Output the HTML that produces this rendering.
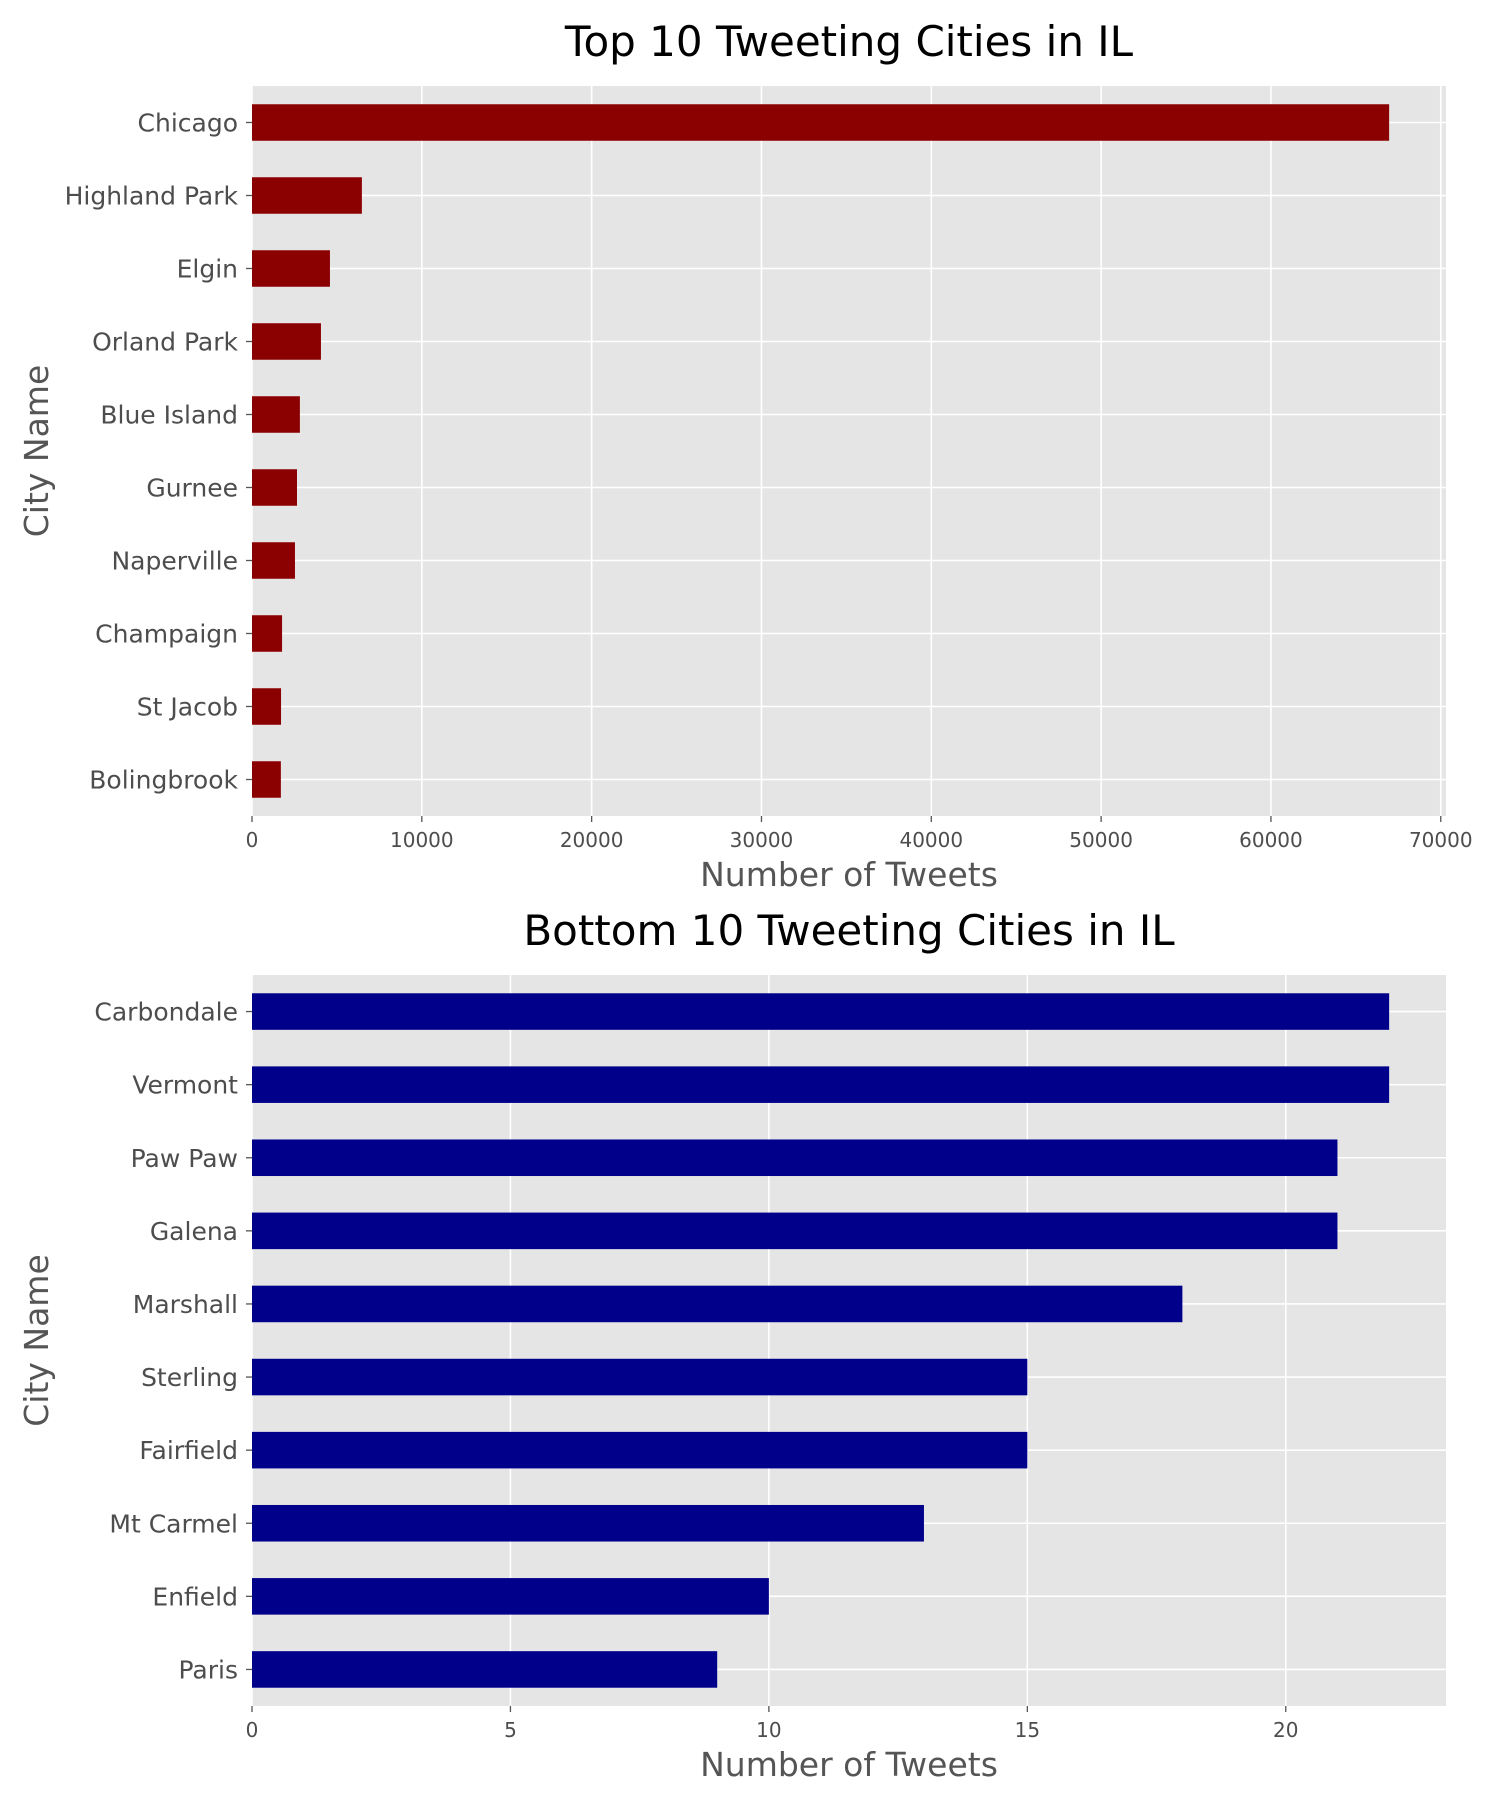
<!DOCTYPE html>
<html><head><meta charset="utf-8"><style>
body{margin:0;background:#fff;}
svg{display:block;font-family:"DejaVu Sans","Liberation Sans",sans-serif;}
</style></head><body>
<svg id="fig" width="1500" height="1800" viewBox="0 0 1500 1800"></svg>
<script>
const topCities = ["Chicago","Highland Park","Elgin","Orland Park","Blue Island","Gurnee","Naperville","Champaign","St Jacob","Bolingbrook"];
const topValues = [66960,6470,4590,4060,2820,2650,2530,1770,1710,1700];
const topTicks = [0,10000,20000,30000,40000,50000,60000,70000];
const botCities = ["Carbondale","Vermont","Paw Paw","Galena","Marshall","Sterling","Fairfield","Mt Carmel","Enfield","Paris"];
const botValues = [22,22,21,21,18,15,15,13,10,9];
const botTicks = [0,5,10,15,20];

const NS="http://www.w3.org/2000/svg";
const svg=document.getElementById('fig');
function mk(tag,attrs,parent){const e=document.createElementNS(NS,tag);for(const k in attrs)e.setAttribute(k,attrs[k]);(parent||svg).appendChild(e);return e;}

function chart(cfg){
  const L=252,R=1446,T=cfg.top,B=cfg.bottom;
  const g=mk('g',{});
  
  
  const max=Math.max(...cfg.values)*1.05;
  const x=v=>L+(v/max)*(R-L);
  const n=cfg.cats.length, slot=(B-T)/n;
  const y=i=>T+slot*(i+0.5);
  const bg=mk('rect',{x:L,y:T,width:R-L,height:B-T,fill:'#e5e5e5'},g);
  
  
  cfg.ticks.forEach(t=>{
    const gl=mk('line',{x1:x(t),x2:x(t),y1:T,y2:B,stroke:'#fff','stroke-width':1.6},g);
    
    
  });
  cfg.cats.forEach((c,i)=>{
    const gl=mk('line',{x1:L,x2:R,y1:y(i),y2:y(i),stroke:'#fff','stroke-width':1.6},g);
    
    
  });
  cfg.values.forEach((v,i)=>{
    const r=mk('rect',{x:L,y:y(i)-slot*0.25,width:x(v)-L,height:slot*0.5,fill:cfg.color},g);
    
    
    const tk=mk('line',{x1:L-6,x2:L,y1:y(i),y2:y(i),stroke:'#555','stroke-width':1.3},g);
    
    
    const tl=mk('text',{x:L-14,y:y(i)+9,'text-anchor':'end','font-size':25,fill:'#4d4d4d'},g);
    tl.textContent=cfg.cats[i];
    
    
  });
  cfg.ticks.forEach(t=>{
    const tk=mk('line',{x1:x(t),x2:x(t),y1:B,y2:B+6,stroke:'#555','stroke-width':1.3},g);
    
    
    const tl=mk('text',{x:x(t),y:B+31,'text-anchor':'middle','font-size':20,fill:'#4d4d4d'},g);
    tl.textContent=t;
    
    
  });
  const ti=mk('text',{x:(L+R)/2,y:T-30,'text-anchor':'middle','font-size':42,fill:'#000'},g);
  ti.textContent=cfg.title;
  
  
  const xl=mk('text',{x:(L+R)/2,y:B+70,'text-anchor':'middle','font-size':33,fill:'#555'},g);
  xl.textContent='Number of Tweets';
  
  
  const cy=(T+B)/2;
  const yl=mk('text',{x:48,y:cy,'text-anchor':'middle','font-size':33,fill:'#555',transform:`rotate(-90 48 ${cy})`},g);
  yl.textContent='City Name';
  
  
}
chart({name:'top-cities-chart',top:86,bottom:816,cats:topCities,values:topValues,ticks:topTicks,color:'#8b0000',title:'Top 10 Tweeting Cities in IL'});
chart({name:'bottom-cities-chart',top:975,bottom:1706,cats:botCities,values:botValues,ticks:botTicks,color:'#00008b',title:'Bottom 10 Tweeting Cities in IL'});
</script>
</body></html>
